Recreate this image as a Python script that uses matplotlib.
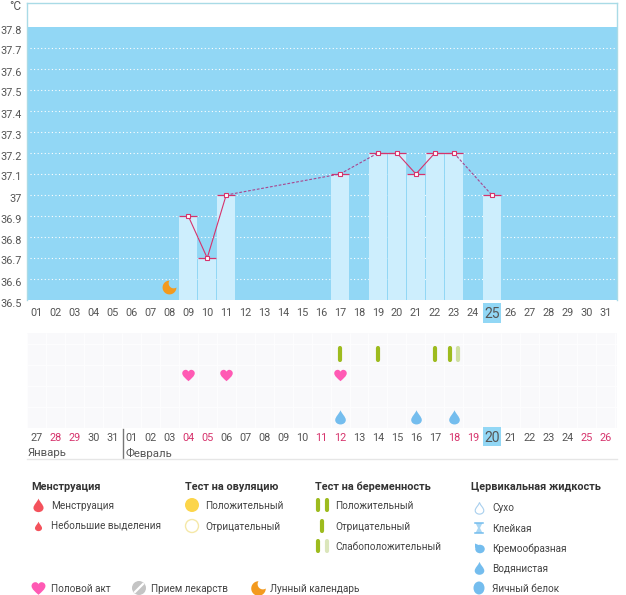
import numpy as np
import matplotlib
matplotlib.use("Agg")
import matplotlib.pyplot as plt
from matplotlib.path import Path
from matplotlib.patches import Rectangle, Circle, Ellipse
from matplotlib.transforms import ScaledTranslation

plt.rcParams['font.family'] = ['Roboto', 'DejaVu Sans']

W, H = 626, 595
# ---------- data ----------
cycle_days = list(range(1, 32))
temp_days = [9, 10, 11, 17, 19, 20, 21, 22, 23, 25]
temp_vals = [36.9, 36.7, 37.0, 37.1, 37.2, 37.2, 37.1, 37.2, 37.2, 37.0]
y_ticks = [36.5, 36.6, 36.7, 36.8, 36.9, 37.0, 37.1, 37.2, 37.3, 37.4, 37.5, 37.6, 37.7, 37.8]
y_labels = ['36.5', '36.6', '36.7', '36.8', '36.9', '37', '37.1', '37.2', '37.3', '37.4', '37.5', '37.6', '37.7', '37.8']
today_cycle = 25
moon_day = 8
moon_temp = 36.56
date_labels = ['27', '28', '29', '30', '31', '01', '02', '03', '04', '05', '06', '07', '08', '09', '10', '11',
               '12', '13', '14', '15', '16', '17', '18', '19', '20', '21', '22', '23', '24', '25', '26']
weekend_labels = ['28', '29', '04', '05', '11', '12', '18', '19', '25', '26']
rows = ['row0', 'test', 'sex', 'row3', 'fluid']
preg_pos_days = [17, 19, 22]
preg_weak_days = [23]
sex_days = [9, 11, 17]
fluid_days = [17, 21, 23]
month_names = ['Январь', 'Февраль']

BG = '#92d7f5'
BAR = '#cdeefd'
PINK = '#d6336c'
TXT = '#555555'
RED = '#d6336c'


def px_axes(x0, y0, x1, y1):
    return fig.add_axes([x0 / W, 1 - y1 / H, (x1 - x0) / W, (y1 - y0) / H])


# marker shapes
heart = Path([(0, -1),
              (-.5, -.55), (-1.1, -.1), (-1.1, .4),
              (-1.1, .8), (-.75, 1), (-.5, 1),
              (-.25, 1), (-.05, .85), (0, .65),
              (.05, .85), (.25, 1), (.5, 1),
              (.75, 1), (1.1, .8), (1.1, .4),
              (1.1, -.1), (.5, -.55), (0, -1),
              (0, -1)],
             [1] + [4] * 18 + [79])
drop = Path([(0, 1.1),
             (-.2, .55), (-.8, .1), (-.8, -.38),
             (-.8, -.8), (-.4, -1.05), (0, -1.05),
             (.4, -1.05), (.8, -.8), (.8, -.38),
             (.8, .1), (.2, .55), (0, 1.1),
             (0, 1.1)],
            [1] + [4] * 12 + [79])
a_out = np.radians(np.linspace(90, 360, 40))
a_in = np.radians(np.linspace(-56, -214, 30))
moon = Path(np.r_[np.c_[np.cos(a_out), np.sin(a_out)],
                  np.c_[.6 + .72 * np.cos(a_in), .6 + .72 * np.sin(a_in)]])

fig = plt.figure(figsize=(W / 100, H / 100), dpi=100, facecolor='white')


def shift(lab, dy_px):
    lab.set_transform(lab.get_transform() + ScaledTranslation(0, -dy_px / 100, fig.dpi_scale_trans))


# ---------- temperature chart ----------
ax = px_axes(27, 3, 617, 300)
ax.set_xlim(0.5, 31.6)
ax.set_ylim(36.5, 36.5 + 297 / 210)
ax.set_facecolor(BG)
ax.axhspan(37.8, 40, color='white', lw=0, zorder=1)
for v in y_ticks[1:-1]:
    ax.plot([0.68, 31.6], [v, v], color='white', lw=0.8, ls=(0, (1, 2.2)), zorder=1.2)
ax.bar(temp_days, np.array(temp_vals) - 36.5, bottom=36.5, width=0.94, color=BAR, lw=0, zorder=2)
ax.hlines(temp_vals, np.array(temp_days) - .47, np.array(temp_days) + .47, color=PINK, lw=0.9, zorder=3)
for k in range(len(temp_days) - 1):
    a, b = temp_days[k], temp_days[k + 1]
    if b - a == 1:
        ax.plot([a, b], [temp_vals[k], temp_vals[k + 1]], color=PINK, lw=0.8, zorder=3)
    else:
        ax.plot([a, b], [temp_vals[k], temp_vals[k + 1]], color='#a8468f', lw=0.8, ls=(0, (2.5, 1.5)), zorder=3)
ax.plot(temp_days, temp_vals, ls='', marker='s', ms=3.5, mfc='white', mec=PINK, mew=0.8, zorder=4)
ax.plot([moon_day], [moon_temp], ls='', marker=moon, ms=10, color='#f39a1e', mew=0, zorder=4)
for s in ax.spines.values():
    s.set_color('#a9dbe6')
    s.set_linewidth(1)
ax.spines['bottom'].set_visible(False)
ax.set_yticks(y_ticks, y_labels)
ax.set_xticks(cycle_days, [f'{d:02d}' for d in cycle_days])
ax.tick_params(length=0, labelsize=7.8, labelcolor=TXT)
ax.tick_params(axis='x', pad=6)
ax.tick_params(axis='y', pad=4)
ax.add_patch(Rectangle((today_cycle - .47, -23 / 297), .94, 20 / 297,
                       transform=ax.get_xaxis_transform(), color=BG, lw=0, clip_on=False, zorder=1))
for lab in ax.get_yticklabels():
    shift(lab, 2.5)
for lab in ax.get_xticklabels():
    if lab.get_text() == f'{today_cycle:02d}':
        lab.set_fontsize(10)
        shift(lab, -1)

# ---------- symptoms grid ----------
ax2 = px_axes(27, 333, 617, 428)
ax2.set_xlim(0.5, 31.6)
ax2.set_ylim(4.52, 0.0)
ax2.set_facecolor('#f9f9fb')
for s in ax2.spines.values():
    s.set_visible(False)
ax2.vlines(np.arange(0.5, 32), 0, 5, color='#fdfdfe', lw=1, zorder=1)
ax2.hlines(np.arange(0.5, 5), 0.5, 31.6, color='#fdfdfe', lw=1, zorder=1)
r = {n: k for k, n in enumerate(rows)}
ax2.set_xticks(cycle_days, date_labels)
ax2.tick_params(length=0, labelsize=7.8, labelcolor=TXT, pad=3.5)
ax2.set_yticks([])
for lab in ax2.get_xticklabels():
    if lab.get_text() in weekend_labels:
        lab.set_color(RED)
    if lab.get_text() == '20':
        lab.set_fontsize(10)
        shift(lab, -2)
ax2.add_patch(Rectangle((today_cycle - .47, -18 / 95), .94, 19 / 95,
                        transform=ax2.get_xaxis_transform(), color=BG, lw=0, clip_on=False, zorder=1))
ax2.vlines(preg_pos_days, r['test'] - .28, r['test'] + .28, color='#9dbb1e', lw=3, capstyle='round', zorder=3)
ax2.vlines(np.array(preg_weak_days) - .22, r['test'] - .28, r['test'] + .28, color='#9dbb1e', lw=3, capstyle='round', zorder=3)
ax2.vlines(np.array(preg_weak_days) + .22, r['test'] - .28, r['test'] + .28, color='#cfe0a0', lw=3, capstyle='round', zorder=3)
ax2.plot(sex_days, [r['sex']] * len(sex_days), ls='', marker=heart, ms=9, color='#ff5ab4', mew=0, zorder=3)
ax2.plot(fluid_days, [r['fluid']] * len(fluid_days), ls='', marker=drop, ms=10.5, color='#74bdee', mew=0, zorder=3)

# ---------- overlay: legend, month labels ----------
ov = fig.add_axes([0, 0, 1, 1], facecolor='none')
ov.set_xlim(0, W)
ov.set_ylim(H, 0)
ov.axis('off')
ov.text(9, 6, '°C', fontsize=8.5, color=TXT, va='center', ha='left')
ov.plot([122.5, 122.5], [429, 458], color='#777777', lw=1)
ov.plot([27, 617], [458.5, 458.5], color='#e6e6e6', lw=1)
ov.text(28, 453, month_names[0], fontsize=8.2, color=TXT, va='center')
ov.text(126, 453, month_names[1], fontsize=8.2, color=TXT, va='center')


def T(x, y, s, bold=False):
    ov.text(x, y + 0.7, s, fontsize=7.8 if bold else 7.2, color='#333333' if bold else '#444444',
            va='center', ha='left', fontweight='bold' if bold else 'normal')


def M(x, y, m, size, c):
    ov.plot([x], [y], ls='', marker=m, ms=size, color=c, mew=0)


T(31, 486, 'Менструация', True)
M(38, 505, drop, 10, '#f4525c'); T(51, 505, 'Менструация')
M(38, 526, drop, 7, '#f4525c'); T(51, 526, 'Небольшие выделения')

T(185, 486, 'Тест на овуляцию', True)
ov.add_patch(Circle((192, 505), 7, color='#fcd54a', lw=0))
ov.add_patch(Circle((192, 526), 6.5, fc='white', ec='#f5e8a8', lw=1))
T(205, 505, 'Положительный'); T(205, 526, 'Отрицательный')

T(315, 486, 'Тест на беременность', True)
for x, c in [(318, '#9dbb1e'), (327, '#9dbb1e')]:
    ov.plot([x, x], [500, 510], color=c, lw=3, solid_capstyle='round')
ov.plot([322, 322], [521, 531], color='#9dbb1e', lw=3, solid_capstyle='round')
ov.plot([318, 318], [541, 551], color='#9dbb1e', lw=3, solid_capstyle='round')
ov.plot([327, 327], [541, 551], color='#dbe6bb', lw=3, solid_capstyle='round')
T(335, 505, 'Положительный'); T(335, 526, 'Отрицательный'); T(335, 546, 'Слабоположительный')

T(471, 486, 'Цервикальная жидкость', True)
ov.plot([479], [508], ls='', marker=drop, ms=8.5, mfc='white', mec='#a8cfee', mew=.8)
ov.plot([475, 483], [523, 523], color='#74bdee', lw=1.1)
ov.plot([475, 483], [533, 533], color='#74bdee', lw=1.1)
ov.fill([475.5, 482.5, 480, 482.5, 475.5, 478], [523, 523, 528, 533, 533, 528], color='#a9d6f3', lw=0)
ov.add_patch(Ellipse((480, 549), 9.5, 8.5, color='#74bdee', lw=0))
ov.fill([475, 481, 475], [543.5, 546, 548], color='#74bdee', lw=0)
M(479, 568, drop, 9.5, '#74bdee')
ov.add_patch(Ellipse((479, 588), 11, 13, color='#74bdee', lw=0))
T(492, 507, 'Сухо'); T(492, 528, 'Клейкая'); T(492, 548, 'Кремообразная')
T(492, 568, 'Водянистая'); T(492, 588, 'Яичный белок')

M(38, 588, heart, 10, '#ff5ab4'); T(51, 588, 'Половой акт')
ov.add_patch(Circle((139, 588), 7, color='#c4c4c4', lw=0))
ov.plot([135, 143], [592, 584], color='white', lw=1.6)
T(151, 588, 'Прием лекарств')
M(258, 588, moon, 10.5, '#f39a1e'); T(270, 588, 'Лунный календарь')

fig.savefig('out.png', dpi=100)
